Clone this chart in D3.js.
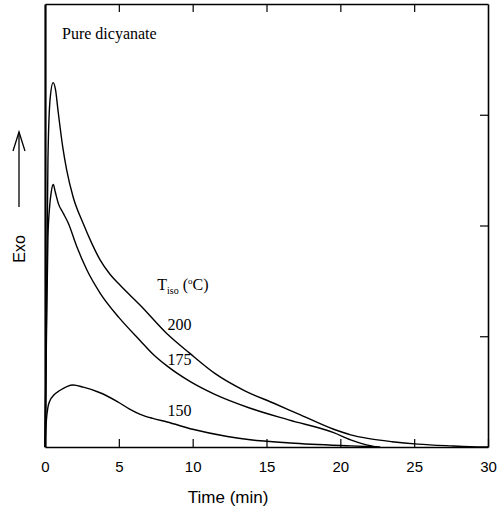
<!DOCTYPE html>
<html>
<head>
<meta charset="utf-8">
<script src="https://cdn.jsdelivr.net/npm/d3@7"></script>
<style>
    body { margin: 0; background: #fff; }
    #chart { width: 501px; height: 510px; }
    .tick text { font-family: "Liberation Sans", Arial, sans-serif; font-size: 15px; fill: #000; }
    .serif { font-family: "Liberation Serif", "Times New Roman", serif; fill: #000; }
</style>
</head>
<body>
<div id="chart"></div>
<script>

// Isothermal DSC data (time in min, Exo in arbitrary units)

var time200 = [0, 0.1, 0.2, 0.35, 0.55, 0.72, 0.88, 1.2, 1.47, 1.9, 2.58, 3.2, 3.73, 4.4, 5.09, 6.45, 8.28, 9.77, 11.5, 13.5, 15.5, 17.3, 19.55, 20.7, 21.85, 23.5, 25.25, 27.5, 28.8, 30];
var exo200 = [0, 1.2, 2.6, 3.15, 3.29, 3.22, 3.04, 2.71, 2.50, 2.26, 2.02, 1.83, 1.69, 1.56, 1.46, 1.28, 1.02, 0.85, 0.665, 0.51, 0.395, 0.29, 0.16, 0.11, 0.078, 0.048, 0.026, 0.01, 0.003, 0];

var time175 = [0, 0.1, 0.2, 0.3, 0.42, 0.56, 0.7, 0.9, 1.24, 1.58, 2.15, 2.83, 3.73, 5, 6.45, 7.3, 8.28, 9.84, 11.5, 13.9, 16.5, 19.55, 20.7, 21.7, 22.5];
var exo175 = [0, 1.0, 1.9, 2.15, 2.3, 2.37, 2.3, 2.2, 2.11, 2.02, 1.81, 1.6, 1.39, 1.17, 0.96, 0.84, 0.73, 0.59, 0.475, 0.35, 0.245, 0.13, 0.065, 0.022, 0];

var time150 = [0, 0.1, 0.2, 0.34, 0.6, 1.0, 1.9, 2.6, 3.73, 4.9, 5.7, 6.45, 7.3, 8.27, 10.0, 12.35, 13.9, 16.6, 20.7, 22.7];
var exo150 = [0, 0.25, 0.36, 0.42, 0.47, 0.51, 0.56, 0.54, 0.49, 0.41, 0.345, 0.295, 0.258, 0.226, 0.16, 0.095, 0.065, 0.036, 0.01, 0];

var series = [
    { name: '200', t: time200, v: exo200 },
    { name: '175', t: time175, v: exo175 },
    { name: '150', t: time150, v: exo150 }
];

var xTicks = [0, 5, 10, 15, 20, 25, 30];
var yTicks = [1, 2, 3];

var width = 501;
var height = 510;

var margin = {
    top: 4,
    bottom: 63,
    left: 45,
    right: 13
}

var svg = d3.select('#chart')
    .append('svg')
    .attr('width', width)
    .attr('height', height);

var g = svg.append('g')
    .attr('transform', 'translate(' + margin.left + ',' + margin.top + ')');

width = width - margin.left - margin.right;
height = height - margin.top - margin.bottom;

var x_scale = d3.scaleLinear()
    .domain([0, 30])
    .range([0, width]);

var y_scale = d3.scaleLinear()
    .domain([0, 4])
    .range([height, 0]);

// Axes, ticks point inwards on every side

var x_axis = d3.axisBottom(x_scale)
    .tickValues(xTicks)
    .tickSizeInner(-8)
    .tickSizeOuter(0)
    .tickPadding(14);

g.append('g')
    .attr('class', 'x axis')
    .attr('transform', 'translate(0,' + height + ')')
    .call(x_axis);

g.append('g')
    .attr('class', 'top axis')
    .call(d3.axisTop(x_scale)
        .tickValues(xTicks.slice(1, -1))
        .tickSizeInner(-8)
        .tickSizeOuter(0)
        .tickFormat(''));

g.append('g')
    .attr('class', 'right axis')
    .attr('transform', 'translate(' + width + ',0)')
    .call(d3.axisRight(y_scale)
        .tickValues(yTicks)
        .tickSizeInner(-8)
        .tickSizeOuter(0)
        .tickFormat(''));

g.append('g')
    .attr('class', 'left axis')
    .call(d3.axisLeft(y_scale)
        .tickValues([])
        .tickSizeOuter(0));

g.selectAll('.axis path')
    .attr('stroke', '#000')
    .attr('stroke-width', 1.6);

g.select('.left.axis path')
    .attr('stroke-width', 2.2);

g.selectAll('.axis line')
    .attr('stroke', '#000')
    .attr('stroke-width', 1.2);

// Curves

var line = d3.line()
    .x(function(d) { return x_scale(d[0]); })
    .y(function(d) { return y_scale(d[1]); })
    .curve(d3.curveMonotoneX);

g.selectAll('.curve')
    .data(series)
    .enter()
    .append('path')
    .attr('class', 'curve')
    .attr('fill', 'none')
    .attr('stroke', '#000')
    .attr('stroke-width', 1.4)
    .attr('d', function(d) {
        return line(d.t.map(function(t, i) { return [t, d.v[i]]; }));
    });

// Curve labels

var labelPos = { '200': [8.3, 1.06], '175': [8.3, 0.74], '150': [8.3, 0.28] };

g.selectAll('.curveLabel')
    .data(series)
    .enter()
    .append('text')
    .attr('class', 'curveLabel serif')
    .attr('x', function(d) { return x_scale(labelPos[d.name][0]); })
    .attr('y', function(d) { return y_scale(labelPos[d.name][1]); })
    .style('font-size', '16px')
    .text(function(d) { return d.name; });

// Legend title T_iso (°C)

var tTitle = g.append('text')
    .attr('class', 'serif')
    .attr('x', x_scale(7.6))
    .attr('y', y_scale(1.42))
    .style('font-size', '16px');

tTitle.append('tspan').text('T');
tTitle.append('tspan').attr('dy', 4).style('font-size', '10px').text('iso');
tTitle.append('tspan').attr('dy', -4).text(' (');
tTitle.append('tspan').attr('dy', -6).style('font-size', '9px').text('o');
tTitle.append('tspan').attr('dy', 6).text('C)');

// Panel title

g.append('text')
    .attr('class', 'serif')
    .attr('x', 17)
    .attr('y', 35)
    .style('font-size', '16px')
    .text('Pure dicyanate');

// X axis label

svg.append('text')
    .attr('x', margin.left + x_scale(12.4))
    .attr('y', 503)
    .attr('text-anchor', 'middle')
    .style('font-family', '"Liberation Sans", Arial, sans-serif')
    .style('font-size', '17px')
    .text('Time (min)');

// Y axis label with the Exo arrow

svg.append('text')
    .attr('transform', 'translate(25,249) rotate(-90)')
    .attr('text-anchor', 'middle')
    .style('font-family', '"Liberation Sans", Arial, sans-serif')
    .style('font-size', '16px')
    .text('Exo');

var arrow = svg.append('g')
    .attr('fill', 'none')
    .attr('stroke', '#000')
    .attr('stroke-width', 1.3);

arrow.append('line')
    .attr('x1', 19).attr('y1', 207)
    .attr('x2', 19).attr('y2', 132);

arrow.append('path')
    .attr('d', 'M13,151 L19,132 L25,151');

</script>
</body>
</html>
